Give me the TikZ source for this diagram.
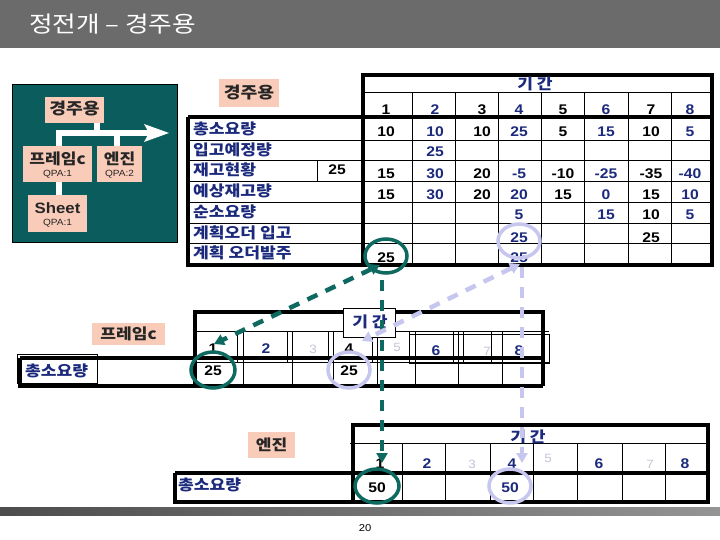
\documentclass[tikz,border=0pt]{standalone}
\usepackage{fontspec}
\setmainfont{Liberation Sans}[FakeStretch=1.12]
\newfontfamily\kr{Noto Sans CJK KR}[FakeStretch=1.14]
\usetikzlibrary{arrows.meta,shapes.geometric}
\definecolor{tealbox}{HTML}{0B5C5C}
\definecolor{pinkb}{HTML}{F9CBB9}
\definecolor{dblue}{HTML}{1B2A7C}
\definecolor{tealc}{HTML}{0E6A60}
\definecolor{lav}{HTML}{C6C6EE}
\definecolor{lgray}{HTML}{C4C4D8}
\definecolor{titlebg}{HTML}{6B6B6B}
\newcommand\trow[3]{%
  \foreach \v [count=\i] in {#3} {%
    \pgfmathsetmacro\xx{{386,435,482,519,563,606,651,690}[\i-1]}%
    \ifodd\i \def\cc{black}\else\def\cc{dblue}\fi
    \node[num, text=\cc] (#1-\i) at (\xx,#2) {\v};
  }}
\begin{document}
\begin{tikzpicture}[x=1pt,y=-1pt,
  thk/.style={line width=3.5pt},
  thn/.style={line width=0.8pt},
  lbl/.style={font=\kr\bfseries\fontsize{15}{17}\selectfont, text=dblue, anchor=west, inner sep=0},
  num/.style={font=\bfseries\fontsize{14}{16}\selectfont, anchor=base, inner sep=0},
  lnum/.style={font=\fontsize{12}{14}\selectfont, text=lgray, anchor=base, inner sep=0},
  pinkbox/.style={fill=pinkb, inner sep=0},
  ptext/.style={font=\kr\bfseries\fontsize{15}{17}\selectfont, text=black!85, inner sep=0},
  qpa/.style={font=\fontsize{9}{10}\selectfont, text=black!85, inner sep=0},
  tree/.style={draw=white, line width=6pt},
  ringT/.style={draw=tealc, line width=3.5pt, ellipse, inner sep=0},
  ringL/.style={draw=lav, line width=3.5pt, ellipse, inner sep=0},
  dashT/.style={draw=tealc, line width=4.5pt, dash pattern=on 11pt off 9pt},
  dashL/.style={draw=lav, line width=4.5pt, dash pattern=on 11pt off 9pt},
  tipT/.style={arrows={-Triangle[length=10pt,width=11pt]}},
  tipTT/.style={arrows={Triangle[length=10pt,width=11pt]-Triangle[length=10pt,width=11pt]}}
]
\useasboundingbox (0,0) rectangle (720,540);
\fill[white] (0,0) rectangle (720,540);
% title bar
\fill[titlebg] (0,0) rectangle (720,48);
\node[anchor=west, text=white, inner sep=0, font=\kr\fontsize{22.5}{26}\selectfont] (title) at (29,24) {정전개 – 경주용};
% bottom bar
\shade[left color=black!70, right color=black!42] (0,507) rectangle (720,515);
\node[font=\fontsize{10}{12}\selectfont, inner sep=0] (pg) at (365,528) {20};

% ---------- product structure box ----------
\draw[fill=tealbox, draw=black, line width=0.8pt] (12,84) rectangle (177,242);
\node[pinkbox, minimum width=59pt, minimum height=26pt] (gj) at (74.5,110) {};
\node[ptext, font=\kr\bfseries\fontsize{16}{18}\selectfont] (gjT) at (74.5,109) {경주용};
\node[pinkbox, minimum width=69pt, minimum height=36pt] (fr) at (57.5,164) {};
\node[ptext] (frT) at (57.5,159) {프레임c};
\node[qpa] (frQ) at (57.5,174) {QPA:1};
\node[pinkbox, minimum width=45pt, minimum height=36pt] (en) at (119.5,164) {};
\node[ptext] (enT) at (119.5,159) {엔진};
\node[qpa] (enQ) at (119.5,174) {QPA:2};
\node[pinkbox, minimum width=59pt, minimum height=37pt] (sh) at (57.5,213.5) {};
\node[ptext, font=\bfseries\fontsize{15}{18}\selectfont] (shT) at (57.5,208) {Sheet};
\node[qpa] (shQ) at (57.5,223) {QPA:1};
\coordinate (barM) at (97,133);
\coordinate (barL) at (59,133);
\coordinate (barR) at (117,133);
\coordinate (barE) at (150,133);
\draw[tree] (barM |- gj.south) -- (barM);
\draw[tree] (56,133) -- (barE);
\fill[white] (144,124) -- (169,133) -- (144,142) -- (149,133) -- cycle;
\draw[tree] (barL) -- (barL |- fr.north);
\draw[tree] (barR) -- (barR |- en.north);
\draw[tree] (barL |- fr.south) -- (barL |- sh.north);

% ---------- top table ----------
\node[pinkbox, minimum width=60pt, minimum height=28pt] (tp) at (249,93) {};
\node[ptext, font=\kr\bfseries\fontsize{16}{18}\selectfont] (tpT) at (249,93) {경주용};
\foreach \y in {140,160,181,202,223,243} \draw[thn] (188,\y) -- (712,\y);
\draw[thn] (363,92) -- (712,92);
\foreach \x in {412,455,498,541,584,628,671} \draw[thn] (\x,92) -- (\x,265);
\draw[thn] (317,160) -- (317,181);
\draw[thk] (363,75) rectangle (712,265);
\draw[thk] (188,117) -- (712,117);
\draw[thk] (363,265) -- (188,265) -- (188,117);
\node[font=\kr\bfseries\fontsize{15}{17}\selectfont, text=dblue, inner sep=0] (gg1) at (535,84) {기 간};
\node[lbl] (l1) at (193,129) {총소요량};
\node[lbl] (l2) at (193,150) {입고예정량};
\node[lbl] (l3) at (193,170) {재고현황};
\node[lbl] (l4) at (193,191) {예상재고량};
\node[lbl] (l5) at (193,212) {순소요량};
\node[lbl] (l6) at (193,233) {계획오더 입고};
\node[lbl] (l7) at (193,253) {계획 오더발주};
\node[num] (inv) at (337,175) {25};
\trow{h}{115}{1,2,3,4,5,6,7,8}
\trow{ra}{137}{10,10,10,25,5,15,10,5}
\trow{rb}{157}{,25,,,,,,}
\trow{rc}{179}{15,30,20,-5,-10,-25,-35,-40}
\trow{rd}{200}{15,30,20,20,15,0,15,10}
\trow{re}{220}{,,,5,,15,10,5}
\trow{rf}{242}{,,,25,,,25,}
\trow{rg}{262}{25,,,25,,,,}
\node[ringT, minimum width=42pt, minimum height=34pt] (cT) at (386,256) {};
\node[ringL, minimum width=42pt, minimum height=34pt] (cL) at (519,241) {};

% ---------- frame table ----------
\node[pinkbox, minimum width=73pt, minimum height=22pt] (fp) at (128.5,334) {};
\node[ptext] (fpT) at (128.5,334) {프레임c};
\draw[thn] (17,354) rectangle (97,383);
\node[lbl] (fl) at (25,371) {총소요량};
\draw[thn] (195,331) -- (549,331);
\draw[thn] (195,362) -- (549,362);
\draw[thn] (409,334) rectangle (549,363);
\foreach \x in {237,287,328,372,409,453,463,491} \draw[thn] (\x,331) -- (\x,362);
\foreach \x in {243,292,333,377,415,458,502} \draw[thn] (\x,331) -- (\x,386);
\draw[thk] (195,386) -- (195,312) -- (543,312) -- (543,386);
\draw[thk] (20,358) -- (543,358);
\draw[thk] (20,358) -- (20,386) -- (543,386);
\draw[thn, fill=white] (343,308) rectangle (395,337);
\node[font=\kr\bfseries\fontsize{15}{17}\selectfont, text=dblue, inner sep=0] (gg2) at (370,322) {기 간};
\node[num] (f1) at (213,353) {1};
\node[num, text=dblue] (f2) at (266,353) {2};
\node[lnum] (f3) at (313,353) {3};
\node[num] (f4) at (349,353) {4};
\node[lnum] (f5) at (397,351) {5};
\node[num, text=dblue] (f6) at (436,355) {6};
\node[lnum] (f7) at (487,355) {7};
\node[num, text=dblue] (f8) at (519,355) {8};
\node[num] (fv1) at (213,375) {25};
\node[num] (fv4) at (349,375) {25};
\node[ringT, minimum width=44pt, minimum height=36pt] (fcT) at (213,370) {};
\node[ringL, minimum width=42pt, minimum height=36pt] (fcL) at (349,370) {};

% ---------- engine table ----------
\node[pinkbox, minimum width=47pt, minimum height=26pt] (ep) at (271.5,445) {};
\node[ptext] (epT) at (271.5,445) {엔진};
\draw[thn] (350,443) -- (708,443);
\foreach \x in {402,445,490,533,577,622,665} \draw[thn] (\x,443) -- (\x,502);
\draw[thk] (353,425) rectangle (708,502);
\draw[thk] (175,473) -- (708,473);
\draw[thk] (353,502) -- (175,502) -- (175,473);
\node[font=\kr\bfseries\fontsize{15}{17}\selectfont, text=dblue, inner sep=0] (gg3) at (528,437) {기 간};
\node[lbl] (el) at (178,485) {총소요량};
\node[num] (e1) at (380,468) {1};
\node[num, text=dblue] (e2) at (427,468) {2};
\node[lnum] (e3) at (472,468) {3};
\node[num, text=dblue] (e4) at (512,468) {4};
\node[lnum] (e5) at (548,462) {5};
\node[num, text=dblue] (e6) at (599,468) {6};
\node[lnum] (e7) at (650,468) {7};
\node[num, text=dblue] (e8) at (685,468) {8};
\node[num] (ev1) at (377,492) {50};
\node[num, text=dblue] (ev4) at (510,492) {50};
\node[ringT, minimum width=44pt, minimum height=34pt] (ecT) at (377,486) {};
\node[ringL, minimum width=42pt, minimum height=34pt] (ecL) at (510,486) {};

% ---------- connectors ----------
\coordinate (tT1) at (380,265);
\coordinate (hT1) at (214,344);
\coordinate (tT2) at (382,280);
\coordinate (hT2) at (382,463);
\coordinate (tL1) at (520,264);
\coordinate (hL1) at (362,341);
\coordinate (tL2) at (522,267);
\coordinate (hL2) at (522,463);
\draw[dashT, tipTT] (tT1) -- (hT1);
\draw[dashT, tipT] (tT2) -- (hT2);
\draw[dashL, tipTT] (tL1) -- (hL1);
\draw[dashL, tipT] (tL2) -- (hL2);
\end{tikzpicture}
\end{document}
